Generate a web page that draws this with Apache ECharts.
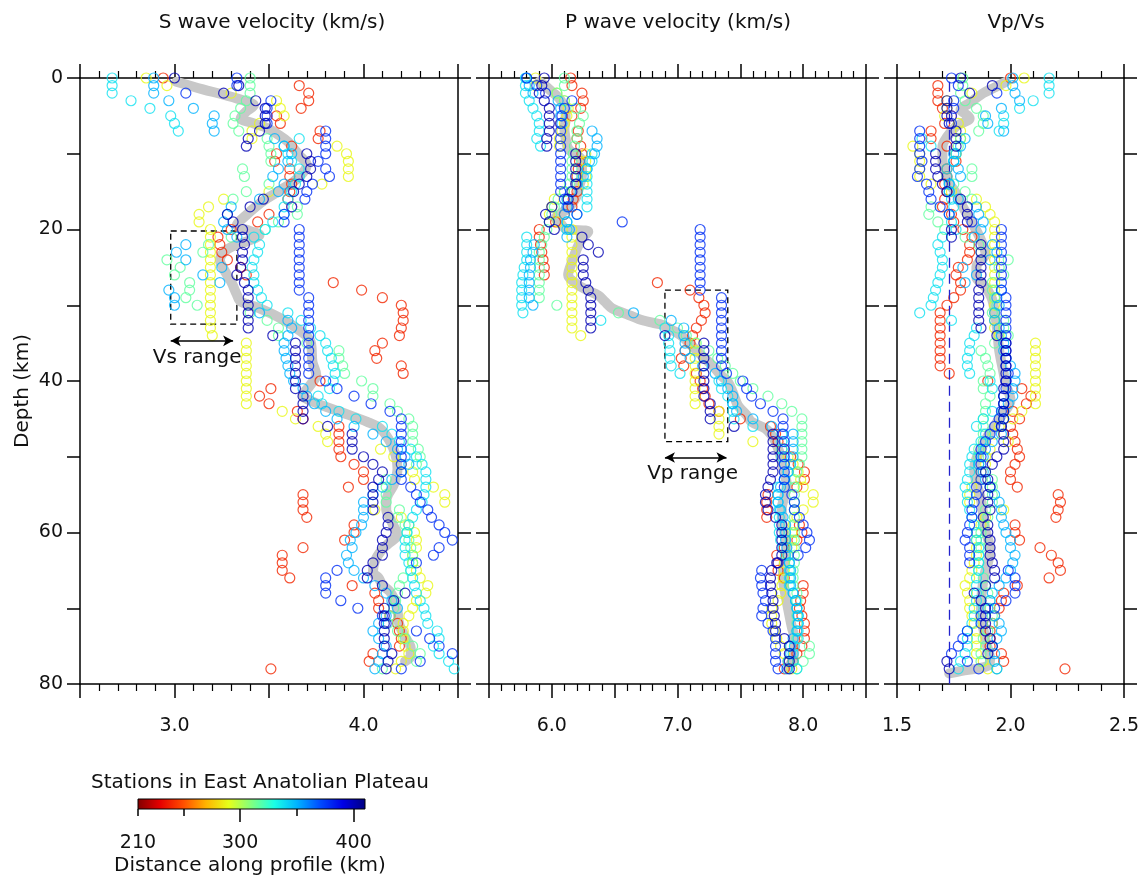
<!DOCTYPE html>
<html>
<head>
<meta charset="utf-8">
<script src="https://cdn.jsdelivr.net/npm/echarts@6/dist/echarts.min.js"></script>
<style>
  html, body { margin: 0; padding: 0; background: #fff; }
  #chart { width: 1147px; height: 883px; }
</style>
</head>
<body>
<div id="chart"></div>
<script>
// depth samples (km), one per km
const depths = [0,1,2,3,4,5,6,7,8,9,10,11,12,13,14,15,16,17,18,19,20,21,22,23,24,25,26,27,28,29,30,31,32,33,34,35,36,37,38,39,40,41,42,43,44,45,46,47,48,49,50,51,52,53,54,55,56,57,58,59,60,61,62,63,64,65,66,67,68,69,70,71,72,73,74,75,76,77,78];

// station distance along profile (km)
const stationDist = [240, 288, 316, 338, 350, 378, 400];

// station 240 km (red)
const vs240 = [2.94,3.66,3.71,3.71,3.67,3.54,3.56,3.77,3.76,3.62,3.54,3.53,3.61,3.61,3.62,3.61,3.60,3.62,3.50,3.44,3.30,3.23,3.24,3.25,3.28,3.35,3.38,3.84,3.99,4.10,4.20,4.21,4.21,4.20,4.19,4.10,4.06,4.07,4.20,4.21,3.77,3.51,3.45,3.50,3.65,3.68,3.87,3.87,3.87,3.87,3.88,3.95,4.00,4.00,3.92,3.68,3.68,3.68,3.70,3.95,3.95,3.90,3.68,3.57,3.57,3.57,3.61,3.94,4.06,4.08,4.08,4.14,4.18,4.19,4.20,4.19,4.05,4.03,3.51];
const vp240 = [6.15,6.16,6.24,6.25,6.23,6.16,6.07,6.21,6.20,6.23,6.24,6.22,6.21,6.20,6.20,6.20,6.17,6.16,6.10,6.03,5.90,5.90,5.91,5.92,5.93,5.94,5.94,6.84,7.10,7.17,7.21,7.22,7.19,7.15,7.12,7.10,7.06,7.03,7.05,7.15,7.18,7.20,7.22,7.25,7.33,7.50,7.74,7.78,7.80,7.85,7.90,7.96,8.01,8.01,7.95,7.72,7.71,7.71,7.71,7.97,7.99,7.95,7.85,7.79,7.80,7.80,7.85,8.00,8.00,7.98,7.97,7.99,8.01,8.01,8.01,7.99,7.95,7.92,7.85];
const ratio240 = [2.00,1.68,1.68,1.68,1.70,1.74,1.71,1.65,1.65,1.72,1.76,1.76,1.72,1.72,1.71,1.72,1.71,1.70,1.74,1.75,1.79,1.83,1.82,1.82,1.81,1.77,1.76,1.78,1.78,1.75,1.72,1.69,1.69,1.69,1.69,1.69,1.69,1.69,1.69,1.73,1.90,2.05,2.09,2.07,2.01,2.04,2.00,2.01,2.02,2.03,2.04,2.02,2.00,2.00,2.03,2.21,2.22,2.21,2.20,2.02,2.02,2.04,2.13,2.18,2.21,2.22,2.17,2.03,1.97,1.96,1.95,1.93,1.92,1.91,1.91,1.91,1.96,1.97,2.24];

// station 288 km (yellow)
const vs288 = [2.85,2.96,3.30,3.54,3.56,3.58,3.45,3.41,3.41,3.86,3.91,3.92,3.92,3.92,3.78,3.50,3.26,3.18,3.13,3.13,3.19,3.19,3.19,3.19,3.19,3.19,3.19,3.19,3.19,3.19,3.19,3.19,3.19,3.19,3.20,3.38,3.38,3.38,3.38,3.38,3.38,3.38,3.38,3.38,3.57,3.64,3.76,3.80,3.81,4.09,4.16,4.20,4.26,4.27,4.37,4.43,4.43,4.06,4.20,4.24,4.27,4.28,4.28,4.26,4.26,4.28,4.30,4.34,4.33,4.28,4.26,4.24,4.21,4.21,4.21,4.22,4.24,4.20,4.17];
const vp288 = [5.87,5.87,6.04,6.10,6.13,6.12,6.10,6.08,6.06,6.06,6.27,6.27,6.27,6.27,6.25,6.10,6.02,6.00,5.98,6.05,6.16,6.16,6.16,6.16,6.16,6.16,6.16,6.16,6.16,6.16,6.16,6.16,6.16,6.16,6.23,7.14,7.14,7.14,7.14,7.14,7.14,7.14,7.14,7.14,7.33,7.33,7.33,7.33,7.60,7.83,7.88,7.92,7.96,7.98,8.00,8.08,8.08,8.00,7.95,7.92,7.91,7.91,7.91,7.88,7.85,7.85,7.84,7.83,7.82,7.80,7.75,7.75,7.75,7.77,7.79,7.82,7.85,7.88,7.91];
const ratio288 = [2.06,1.98,1.83,1.72,1.72,1.71,1.77,1.78,1.78,1.57,1.60,1.60,1.60,1.60,1.65,1.74,1.85,1.89,1.91,1.93,1.93,1.93,1.93,1.93,1.93,1.93,1.93,1.93,1.93,1.93,1.93,1.93,1.93,1.93,1.95,2.11,2.11,2.11,2.11,2.11,2.11,2.11,2.11,2.11,2.05,2.01,1.95,1.93,1.99,1.91,1.89,1.89,1.87,1.87,1.83,1.82,1.82,1.97,1.89,1.87,1.85,1.85,1.85,1.85,1.84,1.83,1.82,1.80,1.81,1.82,1.82,1.83,1.84,1.85,1.85,1.85,1.85,1.88,1.90];

// station 316 km (green)
const vs316 = [3.40,3.40,3.40,3.38,3.35,3.32,3.31,3.34,3.49,3.50,3.51,3.51,3.36,3.37,3.50,3.38,3.31,3.65,3.65,3.55,3.48,3.30,3.18,3.15,2.96,3.03,3.00,3.08,3.08,3.06,3.12,3.40,3.49,3.55,3.55,3.70,3.87,3.87,3.89,3.90,3.99,4.05,4.05,4.14,4.18,4.24,4.26,4.26,4.26,4.29,4.30,4.28,4.20,4.12,4.12,4.12,4.12,4.19,4.18,4.22,4.23,4.24,4.25,4.26,4.26,4.25,4.21,4.19,4.18,4.17,4.16,4.14,4.13,4.18,4.22,4.26,4.30,4.28,4.10];
const vp316 = [6.10,6.10,6.04,6.10,6.19,6.25,6.22,6.20,6.20,6.18,6.17,6.16,6.16,6.16,6.14,6.10,6.05,6.02,6.00,5.98,5.96,5.94,5.92,5.90,5.90,5.90,5.90,5.90,5.90,5.90,6.04,6.53,6.86,7.00,7.07,7.15,7.25,7.32,7.38,7.44,7.50,7.60,7.72,7.83,7.91,7.99,7.99,7.99,7.99,7.99,7.99,7.97,7.95,7.93,7.93,7.93,7.93,7.93,7.93,7.93,7.93,7.93,7.93,7.93,7.93,7.92,7.92,7.92,7.95,7.95,7.95,7.95,7.95,7.95,7.95,8.05,8.05,8.00,7.95];
const ratio316 = [1.79,1.79,1.78,1.80,1.85,1.88,1.88,1.86,1.78,1.77,1.76,1.75,1.83,1.83,1.75,1.80,1.83,1.65,1.64,1.68,1.71,1.80,1.86,1.87,1.99,1.95,1.97,1.92,1.92,1.93,1.94,1.92,1.97,1.97,1.99,1.93,1.87,1.89,1.90,1.91,1.88,1.88,1.91,1.89,1.89,1.88,1.88,1.88,1.88,1.86,1.86,1.86,1.89,1.92,1.92,1.92,1.92,1.89,1.90,1.88,1.87,1.87,1.87,1.86,1.86,1.86,1.88,1.89,1.90,1.91,1.91,1.92,1.92,1.90,1.88,1.89,1.87,1.87,1.94];

// station 338 km (cyan)
const vs338 = [2.67,2.67,2.67,2.77,2.87,2.98,3.00,3.02,3.66,3.58,3.60,3.62,3.66,3.66,3.64,3.62,3.60,3.58,3.58,3.52,3.48,3.42,3.45,3.44,3.42,3.41,3.42,3.42,3.44,3.46,3.49,3.60,3.67,3.72,3.77,3.80,3.81,3.83,3.84,3.85,3.84,3.82,3.76,3.78,3.87,3.96,4.10,4.15,4.19,4.25,4.28,4.31,4.33,4.33,4.33,4.32,4.31,4.28,4.26,4.24,4.23,4.22,4.22,4.22,4.24,4.25,4.26,4.27,4.28,4.30,4.32,4.33,4.34,4.39,4.40,4.37,4.40,4.45,4.48];
const vp338 = [5.79,5.79,5.79,5.82,5.85,5.88,5.90,5.90,5.88,5.91,6.32,6.32,6.28,6.28,6.28,6.28,6.28,6.28,6.20,6.12,6.12,5.80,5.80,5.80,5.80,5.78,5.77,5.76,5.76,5.76,5.76,5.77,6.39,6.90,6.93,6.93,6.94,6.94,6.95,7.02,7.33,7.35,7.40,7.44,7.44,7.45,7.60,7.83,7.83,7.83,7.83,7.85,7.88,7.85,7.80,7.80,7.80,7.81,7.81,7.81,7.81,7.82,7.84,7.86,7.89,7.89,7.89,7.89,7.92,7.94,7.95,7.96,7.96,7.96,7.96,7.93,7.92,7.92,7.95];
const ratio338 = [2.17,2.17,2.17,2.10,2.04,1.97,1.97,1.95,1.61,1.65,1.76,1.75,1.72,1.72,1.73,1.73,1.74,1.75,1.73,1.74,1.76,1.70,1.68,1.69,1.70,1.70,1.69,1.68,1.67,1.66,1.65,1.60,1.74,1.85,1.84,1.82,1.82,1.81,1.81,1.82,1.91,1.92,1.97,1.97,1.92,1.88,1.85,1.89,1.87,1.84,1.83,1.82,1.82,1.81,1.80,1.81,1.81,1.82,1.83,1.84,1.85,1.85,1.86,1.86,1.86,1.86,1.85,1.85,1.85,1.85,1.84,1.84,1.83,1.81,1.81,1.81,1.80,1.78,1.77];

// station 350 km (light blue)
const vs350 = [2.89,2.89,2.89,2.97,3.10,3.21,3.20,3.21,3.53,3.58,3.62,3.60,3.55,3.52,3.58,3.55,3.45,3.30,3.28,3.26,3.28,3.33,3.06,3.01,3.06,3.25,3.15,3.24,2.97,3.00,3.00,3.45,3.60,3.62,3.60,3.58,3.58,3.59,3.60,3.61,3.63,3.68,3.70,3.74,3.80,3.86,3.95,4.05,4.12,4.18,4.22,4.24,4.20,4.15,4.10,4.05,4.00,4.00,4.00,3.99,3.96,3.93,3.94,3.91,3.92,3.95,4.00,4.06,4.12,4.15,4.18,4.12,4.08,4.05,4.08,4.12,4.10,4.08,4.06];
const vp350 = [5.80,5.82,5.85,6.05,6.07,6.07,6.08,6.32,6.36,6.36,6.34,6.30,6.28,6.25,6.20,6.15,6.12,6.12,6.10,6.12,6.14,6.12,5.86,5.85,5.83,5.83,5.82,5.82,5.82,5.82,5.85,6.65,6.95,7.05,7.05,7.06,7.06,7.10,7.20,7.30,7.35,7.40,7.44,7.44,7.47,7.60,7.75,7.92,7.92,7.92,7.92,7.90,7.88,7.85,7.82,7.80,7.80,7.82,7.84,7.86,7.86,7.86,7.87,7.88,7.89,7.90,7.90,7.90,7.92,7.94,7.95,7.96,7.96,7.95,7.92,7.90,7.90,7.88,7.87];
const ratio350 = [2.01,2.01,2.02,2.04,1.96,1.89,1.90,1.97,1.80,1.78,1.75,1.75,1.77,1.78,1.73,1.73,1.77,1.85,1.86,1.88,1.87,1.84,1.92,1.94,1.91,1.79,1.85,1.80,1.96,1.94,1.95,1.93,1.93,1.95,1.96,1.97,1.97,1.98,2.00,2.02,2.02,2.01,2.01,1.99,1.97,1.97,1.96,1.96,1.92,1.89,1.88,1.86,1.88,1.89,1.91,1.93,1.95,1.96,1.96,1.97,1.98,2.00,2.00,2.02,2.01,2.00,1.98,1.95,1.92,1.91,1.90,1.93,1.95,1.96,1.94,1.92,1.93,1.93,1.94];

// station 378 km (blue)
const vs378 = [3.33,3.33,3.06,3.51,3.49,3.49,3.49,3.80,3.80,3.80,3.80,3.76,3.80,3.82,3.73,3.70,3.69,3.62,3.58,3.58,3.66,3.66,3.66,3.66,3.66,3.66,3.66,3.66,3.66,3.71,3.71,3.71,3.71,3.71,3.71,3.71,3.71,3.71,3.71,3.71,3.80,3.86,3.95,4.04,4.14,4.20,4.20,4.20,4.20,4.20,4.20,4.20,4.20,4.20,4.25,4.28,4.30,4.34,4.36,4.40,4.43,4.47,4.40,4.37,4.28,3.86,3.80,3.80,3.80,3.88,3.97,4.10,4.12,4.28,4.35,4.40,4.47,4.30,4.20];
const vp378 = [5.80,5.88,5.95,6.16,6.10,6.08,6.07,6.07,6.07,6.07,6.07,6.07,6.07,6.07,6.07,6.07,6.10,6.13,6.20,6.56,7.18,7.18,7.18,7.18,7.18,7.18,7.18,7.18,7.18,7.35,7.35,7.35,7.35,7.35,7.35,7.35,7.35,7.35,7.35,7.39,7.52,7.55,7.59,7.66,7.76,7.84,7.84,7.84,7.85,7.85,7.85,7.85,7.85,7.85,7.85,7.91,7.93,7.93,7.97,8.00,8.03,8.05,8.02,7.96,7.80,7.67,7.66,7.67,7.68,7.70,7.68,7.67,7.72,7.76,7.78,7.78,7.78,7.78,7.80];
const ratio378 = [1.74,1.77,1.94,1.75,1.75,1.74,1.74,1.60,1.60,1.60,1.60,1.61,1.60,1.59,1.63,1.64,1.65,1.69,1.73,1.83,1.96,1.96,1.96,1.96,1.96,1.96,1.96,1.96,1.96,1.98,1.98,1.98,1.98,1.98,1.98,1.98,1.98,1.98,1.98,1.99,1.98,1.98,1.97,1.97,1.96,1.95,1.93,1.91,1.89,1.87,1.87,1.87,1.87,1.87,1.85,1.85,1.84,1.83,1.83,1.82,1.81,1.80,1.82,1.82,1.82,1.99,2.02,2.02,2.02,1.98,1.93,1.87,1.87,1.81,1.79,1.77,1.74,1.81,1.86];

// station 400 km (navy)
const vs400 = [3.00,3.34,3.26,3.43,3.48,3.48,3.48,3.45,3.39,3.38,3.70,3.72,3.72,3.70,3.66,3.63,3.47,3.40,3.28,3.31,3.36,3.36,3.37,3.36,3.36,3.35,3.33,3.37,3.39,3.39,3.39,3.39,3.39,3.39,3.52,3.64,3.64,3.64,3.64,3.64,3.64,3.64,3.68,3.68,3.68,3.68,3.81,3.94,3.94,3.94,4.00,4.05,4.10,4.08,4.05,4.05,4.05,4.05,4.13,4.13,4.12,4.10,4.10,4.10,4.05,4.02,4.02,4.10,4.22,4.16,4.11,4.11,4.11,4.11,4.11,4.11,4.15,4.13,4.12];
const vp400 = [5.94,5.92,5.90,5.94,5.98,5.98,5.98,5.98,5.96,5.96,6.19,6.19,6.19,6.19,6.19,6.16,6.13,6.00,5.95,5.98,6.02,6.24,6.29,6.37,6.25,6.25,6.25,6.27,6.29,6.31,6.31,6.31,6.31,6.31,6.90,7.21,7.21,7.21,7.21,7.21,7.21,7.21,7.21,7.26,7.26,7.26,7.45,7.76,7.76,7.76,7.76,7.76,7.76,7.74,7.72,7.70,7.70,7.72,7.78,7.83,7.83,7.83,7.83,7.83,7.79,7.75,7.74,7.74,7.75,7.76,7.76,7.77,7.78,7.78,7.85,7.89,7.89,7.89,7.89];
const ratio400 = [1.78,1.92,1.82,1.72,1.72,1.72,1.73,1.76,1.76,1.76,1.67,1.67,1.67,1.68,1.70,1.72,1.78,1.81,1.81,1.81,1.74,1.74,1.87,1.87,1.87,1.87,1.87,1.87,1.86,1.86,1.86,1.86,1.86,1.87,1.94,1.98,1.98,1.98,1.98,1.98,1.98,1.97,1.97,1.97,1.97,1.97,1.96,1.97,1.97,1.97,1.94,1.92,1.89,1.90,1.91,1.90,1.90,1.91,1.88,1.90,1.90,1.91,1.91,1.91,1.92,1.93,1.93,1.89,1.84,1.87,1.89,1.89,1.89,1.89,1.91,1.92,1.90,1.72,1.73];

// average profiles (grey band)
const meanVsDepth = [0.5,1.5,2.2,3.0,3.6,4.4,5.3,6.0,6.6,7.5,8.4,9.3,10.2,11.5,12.5,13.7,14.8,15.9,17.0,18.1,19.4,20.2,20.7,21.6,22.3,23.0,24.0,25.2,26.9,28.6,29.5,30.4,31.7,33.3,34.8,37.5,39.2,40.5,41.9,42.7,44.1,45.4,46.3,48.0,49.8,51.6,53.7,55.0,55.9,57.0,58.1,59.2,60.3,61.5,62.5,63.8,65.2,66.0,66.9,67.8,68.7,70.4,72.2,73.8,75.3,76.3,77.0];
const meanVs = [3.01,3.15,3.26,3.37,3.42,3.38,3.35,3.42,3.49,3.55,3.60,3.63,3.66,3.70,3.68,3.63,3.56,3.49,3.43,3.38,3.33,3.40,3.45,3.38,3.30,3.26,3.24,3.26,3.30,3.33,3.35,3.45,3.56,3.66,3.72,3.73,3.75,3.72,3.68,3.73,3.88,4.02,4.09,4.14,4.17,4.18,4.16,4.13,4.12,4.12,4.14,4.16,4.18,4.13,4.09,4.06,4.05,4.08,4.10,4.14,4.16,4.18,4.19,4.22,4.25,4.25,4.22];
const meanVpDepth = [0.5,0.9,1.8,2.7,3.5,4.4,5.5,6.7,8.0,9.3,10.0,10.6,11.7,12.8,14.2,15.5,16.4,17.2,17.9,18.5,19.2,19.9,20.3,21.2,22.5,24.3,26.0,27.1,28.0,28.7,29.5,30.4,31.2,31.8,32.3,32.6,33.3,34.0,35.3,36.6,38.0,39.3,40.1,41.5,43.2,44.5,45.4,46.3,47.2,48.0,49.4,50.7,52.2,53.7,55.3,56.8,58.2,59.5,60.8,62.1,63.4,64.7,66.0,67.4,69.2,70.9,72.5,74.0,75.3,76.6,78.0];
const meanVp = [5.90,5.94,6.00,6.06,6.09,6.11,6.11,6.10,6.11,6.13,6.18,6.23,6.24,6.24,6.22,6.20,6.17,6.13,6.07,6.03,6.07,6.11,6.29,6.24,6.20,6.16,6.13,6.19,6.28,6.37,6.42,6.48,6.60,6.69,6.80,6.88,6.96,7.03,7.11,7.19,7.28,7.35,7.40,7.44,7.48,7.55,7.59,7.70,7.75,7.78,7.81,7.83,7.85,7.87,7.85,7.83,7.83,7.84,7.86,7.87,7.86,7.84,7.84,7.85,7.87,7.89,7.91,7.93,7.93,7.92,7.88];
const meanRatioDepth = [0.5,1.4,2.0,3.3,4.2,4.7,5.3,6.4,7.8,9.1,10.8,12.2,13.9,15.2,17.0,19.6,21.4,23.2,24.9,26.3,27.6,29.3,32.9,35.9,39.0,40.5,42.5,45.0,47.8,51.7,55.7,59.7,62.3,66.3,70.2,74.2,76.8,77.6,78.3,78.6];
const meanRatio = [1.98,1.92,1.88,1.82,1.78,1.80,1.82,1.76,1.72,1.70,1.70,1.71,1.73,1.76,1.79,1.84,1.87,1.89,1.85,1.85,1.89,1.92,1.94,1.95,1.97,1.98,2.00,1.95,1.89,1.84,1.87,1.89,1.91,1.88,1.87,1.89,1.91,1.90,1.78,1.73];

// annotations
const vsRangeBox = [[2.98, 20.2], [3.33, 32.5]];
const vsRangeArrow = [[2.98, 34.7], [3.31, 34.7]];
const vsRangeText = [3.12, 36.9];
const vpRangeBox = [[6.90, 28.0], [7.40, 48.0]];
const vpRangeArrow = [[6.90, 50.1], [7.39, 50.1]];
const vpRangeText = [7.12, 52.3];
const poissonRatio = 1.73;

// colour bar
const distMin = 210, distMax = 410;
const barMajorTicks = [300, 400];
const barMinorTicks = [210, 250, 350];
const barLabels = [210, 300, 400];

const jetStops = ['#800000','#e60000','#ff4d00','#ffb300','#e6ff1a','#80ff80','#1affe6','#00b3ff','#004dff','#0000e6','#000080'];

const vsByStation = [vs240, vs288, vs316, vs338, vs350, vs378, vs400];
const vpByStation = [vp240, vp288, vp316, vp338, vp350, vp378, vp400];
const ratioByStation = [ratio240, ratio288, ratio316, ratio338, ratio350, ratio378, ratio400];

const FONT = 'DejaVu Sans';

function hexRgb(h) {
  return [parseInt(h.slice(1, 3), 16), parseInt(h.slice(3, 5), 16), parseInt(h.slice(5, 7), 16)];
}
function distColor(d) {
  const t = Math.min(1, Math.max(0, (d - distMin) / (distMax - distMin))) * (jetStops.length - 1);
  const i = Math.min(jetStops.length - 2, Math.floor(t));
  const f = t - i;
  const a = hexRgb(jetStops[i]), b = hexRgb(jetStops[i + 1]);
  return 'rgb(' + a.map((v, k) => Math.round(v + (b[k] - v) * f)).join(',') + ')';
}

const chart = echarts.init(document.getElementById('chart'));

const blackLine = { color: '#000', width: 1.5 };

function xBottom(grid, min, max, fmt) {
  return {
    type: 'value', gridIndex: grid, position: 'bottom', min: min, max: max, interval: 0.5,
    axisLine: { show: true, onZero: false, lineStyle: blackLine },
    axisTick: { show: true, length: 14, lineStyle: blackLine },
    minorTick: { show: true, splitNumber: 5, length: 7, lineStyle: { color: '#000', width: 1.2 } },
    splitLine: { show: false },
    axisLabel: { show: true, margin: 33, fontSize: 19, fontFamily: FONT, color: '#111',
      showMinLabel: true, showMaxLabel: true, formatter: fmt }
  };
}
function xTop(grid, min, max) {
  return {
    type: 'value', gridIndex: grid, position: 'top', min: min, max: max, interval: 0.5,
    axisLine: { show: true, onZero: false, lineStyle: blackLine },
    axisTick: { show: true, length: 14, lineStyle: blackLine },
    minorTick: { show: true, splitNumber: 5, length: 7, lineStyle: { color: '#000', width: 1.2 } },
    splitLine: { show: false },
    axisLabel: { show: false }
  };
}
function yDepth(grid, pos, withLabels) {
  return {
    type: 'value', gridIndex: grid, position: pos, inverse: true, min: 0, max: 80, interval: 10,
    axisLine: { show: true, onZero: false, lineStyle: blackLine },
    axisTick: { show: true, length: 13, lineStyle: blackLine },
    splitLine: { show: false },
    axisLabel: { show: withLabels, margin: 17, fontSize: 19, fontFamily: FONT, color: '#111',
      formatter: v => (v % 20 === 0 ? String(v) : '') }
  };
}

const integerLabel = v => (Math.abs(v - Math.round(v)) < 1e-6 ? v.toFixed(1) : '');

const xAxes = [
  xBottom(0, 2.5, 4.5, integerLabel), xTop(0, 2.5, 4.5),
  xBottom(1, 5.5, 8.5, integerLabel), xTop(1, 5.5, 8.5),
  xBottom(2, 1.5, 2.5, v => v.toFixed(1)), xTop(2, 1.5, 2.5),
  {
    type: 'value', gridIndex: 3, position: 'bottom', min: distMin, max: distMax,
    axisLine: { show: false },
    axisTick: { show: true, length: 13, customValues: barMajorTicks, lineStyle: blackLine },
    splitLine: { show: false },
    axisLabel: { show: true, customValues: barLabels, margin: 25, fontSize: 19, fontFamily: FONT, color: '#111' }
  },
  {
    type: 'value', gridIndex: 3, position: 'bottom', min: distMin, max: distMax,
    axisLine: { show: false },
    axisTick: { show: true, length: 7, customValues: barMinorTicks, lineStyle: blackLine },
    splitLine: { show: false },
    axisLabel: { show: false }
  }
];
const yAxes = [
  yDepth(0, 'left', true), yDepth(0, 'right', false),
  yDepth(1, 'left', false), yDepth(1, 'right', false),
  yDepth(2, 'left', false), yDepth(2, 'right', false),
  { type: 'value', gridIndex: 3, min: 0, max: 1, show: false }
];

const panels = [
  { axis: 0, values: vsByStation, meanDepth: meanVsDepth, mean: meanVs },
  { axis: 2, values: vpByStation, meanDepth: meanVpDepth, mean: meanVp },
  { axis: 4, values: ratioByStation, meanDepth: meanRatioDepth, mean: meanRatio }
];

const series = [];
panels.forEach(p => {
  series.push({
    type: 'line', xAxisIndex: p.axis, yAxisIndex: p.axis, z: 1,
    data: p.mean.map((v, i) => [v, p.meanDepth[i]]),
    showSymbol: false, smooth: 0.35, clip: false,
    lineStyle: { color: '#c8c8c8', width: 10, cap: 'round', join: 'round' },
    silent: true
  });
  stationDist.forEach((dist, s) => {
    const col = distColor(dist);
    series.push({
      type: 'scatter', xAxisIndex: p.axis, yAxisIndex: p.axis, z: 2 + s,
      symbol: 'circle', symbolSize: 10, clip: false,
      itemStyle: { color: 'rgba(255,255,255,0)', borderColor: col, borderWidth: 1.2 },
      data: p.values[s].map((v, i) => [v, depths[i]]),
      silent: true
    });
  });
});

function rangeAnnotation(axis, box, arrow, textPos, text) {
  return {
    type: 'scatter', xAxisIndex: axis, yAxisIndex: axis, data: [], z: 20, silent: true,
    markArea: {
      silent: true,
      itemStyle: { color: 'rgba(0,0,0,0)', borderColor: '#000', borderWidth: 1.3, borderType: [6, 4] },
      data: [[{ coord: box[0] }, { coord: box[1] }]]
    },
    markLine: {
      silent: true, symbol: ['arrow', 'arrow'], symbolSize: [8, 10],
      lineStyle: { color: '#000', width: 1.5, type: 'solid' }, label: { show: false },
      data: [[{ coord: arrow[0] }, { coord: arrow[1] }]]
    },
    markPoint: {
      silent: true, symbol: 'rect', symbolSize: 1, itemStyle: { color: 'rgba(0,0,0,0)' },
      label: { show: true, position: 'inside', formatter: text, fontSize: 20, fontFamily: FONT, color: '#111' },
      data: [{ coord: textPos }]
    }
  };
}
series.push(rangeAnnotation(0, vsRangeBox, vsRangeArrow, vsRangeText, 'Vs range'));
series.push(rangeAnnotation(2, vpRangeBox, vpRangeArrow, vpRangeText, 'Vp range'));
series.push({
  type: 'scatter', xAxisIndex: 4, yAxisIndex: 4, data: [], z: 20, silent: true,
  markLine: {
    silent: true, symbol: ['none', 'none'], label: { show: false },
    lineStyle: { color: '#2323cc', width: 1.3, type: [10, 6] },
    data: [[{ coord: [poissonRatio, 0.5] }, { coord: [poissonRatio, 80] }]]
  }
});

function label(text, x, y, rotation) {
  return {
    type: 'text', x: x, y: y, rotation: rotation || 0, silent: true,
    style: { text: text, font: '20px "DejaVu Sans"', fill: '#111',
      align: 'center', verticalAlign: 'middle', textAlign: 'center', textVerticalAlign: 'middle' }
  };
}

chart.setOption({
  animation: false,
  backgroundColor: '#fff',
  textStyle: { fontFamily: FONT },
  grid: [
    { left: 80, top: 78, width: 378, height: 606 },
    { left: 489, top: 78, width: 377, height: 606 },
    { left: 897, top: 78, width: 227, height: 606 },
    {
      left: 138, top: 799, width: 227, height: 10, show: true,
      borderColor: '#000', borderWidth: 1,
      backgroundColor: new echarts.graphic.LinearGradient(0, 0, 1, 0,
        jetStops.map((c, i) => ({ offset: i / (jetStops.length - 1), color: c })))
    }
  ],
  xAxis: xAxes,
  yAxis: yAxes,
  series: series,
  graphic: [
    label('S wave velocity (km/s)', 272, 23),
    label('P wave velocity (km/s)', 678, 23),
    label('Vp/Vs', 1016, 23),
    label('Depth (km)', 23, 391, Math.PI / 2),
    label('Stations in East Anatolian Plateau', 260, 783),
    label('Distance along profile (km)', 250, 866)
  ]
});

window.addEventListener('resize', () => chart.resize());
</script>
</body>
</html>
